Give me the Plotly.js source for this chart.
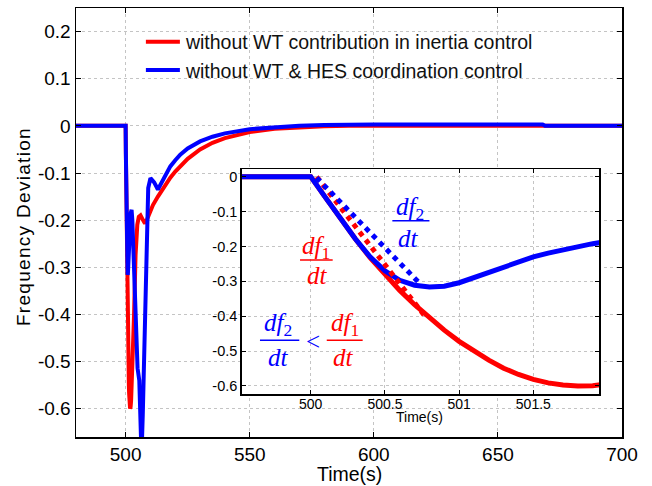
<!DOCTYPE html>
<html>
<head>
<meta charset="utf-8">
<script src="https://cdn.plot.ly/plotly-3.0.1.min.js"></script>
<style>
html,body{margin:0;padding:0;background:#fff;}
#chart{width:652px;height:486px;}
.legendlines path{d:path("M-8,0h42");}
</style>
</head>
<body>
<div id="chart"></div>
<script>
// ---- data ----
const seriesNames = ['without WT contribution in inertia control', 'without WT & HES coordination control'];

const redTime = [480, 500, 500.1, 500.2, 500.3, 500.4, 500.5, 500.6, 500.7, 500.8, 500.9, 501.0, 501.1, 501.2, 501.3, 501.4, 501.5, 501.6, 501.7, 501.8, 501.9, 502.0, 502.2, 502.7, 503.4, 504.0, 504.7, 505.3, 506.0, 507.0, 507.8, 508.5, 509.5, 511, 513, 515, 518, 520, 522, 525, 530, 535, 540, 550, 560, 570, 580, 590, 700];
const redFreq = [0, 0, -0.06, -0.12, -0.178, -0.232, -0.281, -0.326, -0.367, -0.405, -0.44, -0.472, -0.501, -0.526, -0.549, -0.567, -0.581, -0.591, -0.597, -0.6, -0.599, -0.596, -0.583, -0.525, -0.40, -0.274, -0.21, -0.193, -0.19, -0.2, -0.207, -0.2, -0.185, -0.168, -0.15, -0.133, -0.11, -0.097, -0.085, -0.07, -0.05, -0.036, -0.026, -0.013, -0.006, -0.003, -0.001, 0, 0];

const blueTime = [480, 500, 500.1, 500.2, 500.3, 500.4, 500.5, 500.6, 500.7, 500.8, 500.9, 501.0, 501.1, 501.2, 501.3, 501.4, 501.5, 501.6, 501.7, 501.8, 501.9, 502.0, 502.4, 502.7, 503.1, 504.0, 504.8, 505.5, 506.1, 506.4, 506.9, 507.6, 508.2, 508.6, 509.1, 510.0, 511.5, 513.0, 514.5, 516, 518, 520, 522, 525, 530, 535, 540, 550, 560, 570, 580, 600, 668, 669, 700];
const blueFreq = [0, 0, -0.06, -0.12, -0.178, -0.23, -0.27, -0.297, -0.311, -0.316, -0.314, -0.304, -0.289, -0.272, -0.257, -0.243, -0.23, -0.219, -0.209, -0.2, -0.192, -0.186, -0.178, -0.2, -0.26, -0.40, -0.514, -0.54, -0.655, -0.70, -0.613, -0.471, -0.295, -0.189, -0.132, -0.111, -0.12, -0.135, -0.12, -0.103, -0.086, -0.073, -0.061, -0.048, -0.033, -0.023, -0.016, -0.007, -0.003, 0, 0.002, 0.003, 0.003, 0, 0];

// initial slope (df/dt) tangent lines in the inset
const tanRedTime = [500.04, 500.77];
const tanRedFreq = [0, -0.40];
const tanBlueTime = [500.04, 500.73];
const tanBlueFreq = [-0.003, -0.304];

// tick labels
const mainXTicks = [500, 550, 600, 650, 700];
const mainYTicks = [0.2, 0.1, 0, -0.1, -0.2, -0.3, -0.4, -0.5, -0.6];
const mainYLabels = ['0.2', '0.1', '0', '-0.1', '-0.2', '-0.3', '-0.4', '-0.5', '-0.6'];
const insetXTicks = [500, 500.5, 501, 501.5];
const insetXLabels = ['500', '500.5', '501', '501.5'];
const insetYTicks = [0, -0.1, -0.2, -0.3, -0.4, -0.5, -0.6];
const insetYLabels = ['0', '-0.1', '-0.2', '-0.3', '-0.4', '-0.5', '-0.6'];

// ---- styling ----
const RED = '#ff0000', BLUE = '#0000ff';
const insetXRange = [499.535, 501.943];
const insetYRange = [-0.623, 0.022];

const traces = [
  {x: redTime, y: redFreq, name: seriesNames[0], mode: 'lines', line: {color: RED, width: 4}, xaxis: 'x', yaxis: 'y'},
  {x: blueTime, y: blueFreq, name: seriesNames[1], mode: 'lines', line: {color: BLUE, width: 4}, xaxis: 'x', yaxis: 'y'},
  {x: redTime, y: redFreq, mode: 'lines', line: {color: RED, width: 5}, xaxis: 'x2', yaxis: 'y2', showlegend: false},
  {x: blueTime, y: blueFreq, mode: 'lines', line: {color: BLUE, width: 5}, xaxis: 'x2', yaxis: 'y2', showlegend: false},
  {x: tanRedTime, y: tanRedFreq, mode: 'lines', line: {color: RED, width: 5, dash: '5px,5px'}, xaxis: 'x2', yaxis: 'y2', showlegend: false},
  {x: tanBlueTime, y: tanBlueFreq, mode: 'lines', line: {color: BLUE, width: 5, dash: '5px,5px'}, xaxis: 'x2', yaxis: 'y2', showlegend: false}
];

const axisCommon = {
  ticks: 'inside', tickcolor: 'black', showline: true, mirror: 'ticks',
  linecolor: 'black', linewidth: 1.5, showgrid: true, gridcolor: '#c4c4c4',
  griddash: '3px,3px', gridwidth: 1, zeroline: false, tickmode: 'array'
};

const serif = '"Liberation Serif", "Times New Roman", serif';
function ann(x, y, text, color, size) {
  return {x: x, y: y, xref: 'x2', yref: 'y2', text: text, showarrow: false,
    font: {family: serif, size: size || 25, color: color}, xanchor: 'center', yanchor: 'middle'};
}
function bar(x0, x1, y, color) {
  return {type: 'line', xref: 'x2', yref: 'y2', x0: x0, x1: x1, y0: y, y1: y,
    line: {color: color, width: 1.5}, layer: 'above'};
}

const layout = {
  width: 652, height: 486,
  margin: {l: 76, r: 30, t: 8, b: 49},
  paper_bgcolor: 'white', plot_bgcolor: 'white',
  font: {family: '"Liberation Sans", Arial, sans-serif', color: 'black'},
  showlegend: true,
  legend: {x: 0.128, y: 0.966, xanchor: 'left', yanchor: 'top', bgcolor: 'rgba(0,0,0,0)',
    font: {size: 19.5, color: '#111'}, tracegroupgap: 0},
  xaxis: Object.assign({}, axisCommon, {
    range: [480, 700], tickvals: mainXTicks, ticktext: mainXTicks.map(String), ticklen: 5,
    tickfont: {size: 19}
  }),
  yaxis: Object.assign({}, axisCommon, {
    range: [-0.66, 0.25], tickvals: mainYTicks, ticktext: mainYLabels, ticklen: 5,
    tickfont: {size: 19}
  }),
  xaxis2: Object.assign({}, axisCommon, {
    domain: [0.3035, 0.958], anchor: 'y2', range: insetXRange,
    tickvals: insetXTicks, ticktext: insetXLabels, ticklen: 4,
    tickfont: {size: 14}, ticklabelstandoff: -3
  }),
  yaxis2: Object.assign({}, axisCommon, {
    domain: [0.1002, 0.6247], anchor: 'x2', range: insetYRange,
    tickvals: insetYTicks, ticktext: insetYLabels, ticklen: 4,
    tickfont: {size: 14.5}
  }),
  shapes: [
    {type: 'rect', xref: 'x2', yref: 'y2', x0: insetXRange[0], x1: insetXRange[1], y0: insetYRange[0], y1: insetYRange[1],
      fillcolor: 'white', line: {width: 0}, layer: 'below'},
    bar(500.55, 500.80, -0.126, BLUE),
    bar(499.928, 500.148, -0.239, RED),
    bar(499.658, 499.923, -0.469, BLUE),
    bar(500.108, 500.35, -0.469, RED)
  ],
  annotations: [
    {x: 0.5, y: -0.0862, xref: 'paper', yref: 'paper', text: 'Time(s)', showarrow: false,
      font: {size: 19.5, color: 'black'}, xanchor: 'center', yanchor: 'middle'},
    {x: -0.097, y: 0.4895, xref: 'paper', yref: 'paper', textangle: -90,
      text: '<span style="letter-spacing:1.3px">Frequency Deviation</span>', showarrow: false,
      font: {size: 19, color: 'black'}, xanchor: 'center', yanchor: 'middle'},
    {x: 0.629, y: 0.047, xref: 'paper', yref: 'paper', text: 'Time(s)', showarrow: false,
      font: {size: 14, color: 'black'}, xanchor: 'center', yanchor: 'middle'},
    ann(500.67, -0.090, '<i>df</i><sub>2</sub>', BLUE),
    ann(500.66, -0.176, '<i>dt</i>', BLUE),
    ann(500.036, -0.204, '<i>df</i><sub>1</sub>', RED),
    ann(500.045, -0.284, '<i>dt</i>', RED),
    ann(499.78, -0.424, '<i>df</i><sub>2</sub>', BLUE),
    ann(499.78, -0.517, '<i>dt</i>', BLUE),
    ann(500.018, -0.473, '&lt;', BLUE),
    ann(500.231, -0.424, '<i>df</i><sub>1</sub>', RED),
    ann(500.22, -0.517, '<i>dt</i>', RED)
  ]
};

Plotly.newPlot('chart', traces, layout, {displayModeBar: false, staticPlot: true});
</script>
</body>
</html>
